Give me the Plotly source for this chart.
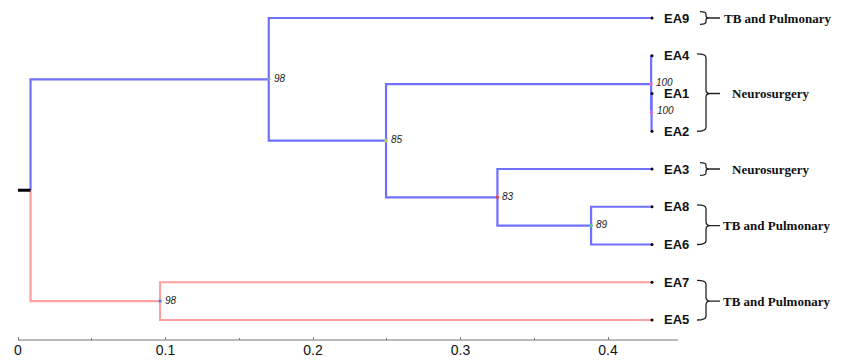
import plotly.graph_objects as go

# ---------------- data ----------------
tip_labels = ["EA9", "EA4", "EA1", "EA2", "EA3", "EA8", "EA6", "EA7", "EA5"]
tip_depths = [0.4298, 0.4298, 0.4298, 0.4298, 0.4298, 0.4298, 0.4298, 0.4298, 0.4298]

node_ids = ["root", "blue98", "n85", "n100a", "n100b", "n83", "n89", "red98"]
node_depths = [0.0085, 0.170, 0.2495, 0.4292, 0.4295, 0.325, 0.3885, 0.0963]
node_children = [["blue98", "red98"], ["EA9", "n85"], ["n100a", "n83"], ["EA4", "n100b"],
                 ["EA1", "EA2"], ["EA3", "n89"], ["EA8", "EA6"], ["EA7", "EA5"]]
node_support = [None, 98, 85, 100, 100, 83, 89, 98]
node_dot_colors = [None, "#8a9bb0", "#c8c850", "#e070d0", "#e070d0", "#dd4a4a", "#50c890", "#5a8ad0"]
clade_of_root_child = {"blue98": "blue", "red98": "red"}

group_labels = ["TB and Pulmonary", "Neurosurgery", "Neurosurgery", "TB and Pulmonary", "TB and Pulmonary"]
group_first = ["EA9", "EA4", "EA3", "EA8", "EA7"]
group_last = ["EA9", "EA2", "EA3", "EA6", "EA5"]

x_tickvals = [0, 0.1, 0.2, 0.3, 0.4]
x_ticktext = ["0", "0.1", "0.2", "0.3", "0.4"]
x_minor_tickvals = [0.05, 0.15, 0.25, 0.35]
axis_end = 0.4475

# ---------------- layout of tree ----------------
depth = {}
ypos = {}
for i, (t, d) in enumerate(zip(tip_labels, tip_depths)):
    depth[t] = d
    ypos[t] = i
children = {}
for n, d, ch in zip(node_ids, node_depths, node_children):
    depth[n] = d
    children[n] = ch


def get_y(n):
    if n in ypos:
        return ypos[n]
    ys = [get_y(c) for c in children[n]]
    ypos[n] = (min(ys) + max(ys)) / 2
    return ypos[n]


get_y("root")

clade = {}


def assign(n, c):
    clade[n] = c
    for ch in children.get(n, []):
        assign(ch, c)


for ch in children["root"]:
    assign(ch, clade_of_root_child[ch])

seg = {"blue": ([], []), "red": ([], [])}
for n in node_ids:
    for ch in children[n]:
        xs, ys = seg[clade[ch]]
        xs += [depth[n], depth[n], depth[ch], None]
        ys += [ypos[n], ypos[ch], ypos[ch], None]

colors = {"blue": "#7070ff", "red": "#ffa0a0"}

fig = go.Figure()
for c in ["red", "blue"]:
    fig.add_trace(go.Scatter(x=seg[c][0], y=seg[c][1], mode="lines",
                             line=dict(color=colors[c], width=2.2), hoverinfo="skip",
                             showlegend=False))

# root stub
fig.add_trace(go.Scatter(x=[0, depth["root"]], y=[ypos["root"], ypos["root"]], mode="lines",
                         line=dict(color="black", width=3), showlegend=False, hoverinfo="skip"))

# tip dots
fig.add_trace(go.Scatter(x=tip_depths, y=[ypos[t] for t in tip_labels], mode="markers",
                         marker=dict(color="black", size=3), showlegend=False, hoverinfo="skip"))

# node dots
nd = [(n, c) for n, c in zip(node_ids, node_dot_colors) if c]
fig.add_trace(go.Scatter(x=[depth[n] for n, _ in nd], y=[ypos[n] for n, _ in nd], mode="markers",
                         marker=dict(color=[c for _, c in nd], size=3.5), showlegend=False,
                         hoverinfo="skip"))

annotations = []
# support values
for n, s in zip(node_ids, node_support):
    if s is None:
        continue
    annotations.append(dict(x=depth[n], y=ypos[n], xref="x", yref="y", text="<i>%d</i>" % s,
                            showarrow=False, xanchor="left", yanchor="middle", xshift=3,
                            yshift=1 if s != 100 else 2,
                            font=dict(family="Liberation Sans, Arial", size=10, color="#222")))
# tip labels
for t in tip_labels:
    annotations.append(dict(x=depth[t], y=ypos[t], xref="x", yref="y", text="<b>%s</b>" % t,
                            showarrow=False, xanchor="left", yanchor="middle", xshift=10,
                            font=dict(family="Liberation Sans, Arial", size=13, color="#111")))

shapes = []
tipx = max(tip_depths)
for lab, a, b in zip(group_labels, group_first, group_last):
    ya, yb = ypos[a], ypos[b]
    mid = (ya + yb) / 2
    if a == b:
        top, bot = ya - 0.17, ya + 0.17
        h0 = 48
        path = ("M %d,%f Q 54,%f 54,%f L 54,%f Q 54,%f 57,%f Q 54,%f 54,%f L 54,%f Q 54,%f %d,%f "
                "M 57,%f L 68,%f") % (h0, top, top, top + 0.07, mid - 0.05, mid, mid, mid, mid + 0.05,
                                      bot - 0.07, bot, h0, bot, mid, mid)
        lx = 72
    else:
        top, bot = ya - 0.05, yb
        h0 = 45
        path = ("M %d,%f Q 54,%f 54,%f L 54,%f Q 54,%f 58,%f Q 54,%f 54,%f L 54,%f Q 54,%f %d,%f "
                "M 58,%f L 68,%f") % (h0, top, top, top + 0.1, mid - 0.1, mid, mid, mid, mid + 0.1,
                                      bot - 0.1, bot, h0, bot, mid, mid)
        lx = 71
    if lab == "Neurosurgery":
        lx = 80
    shapes.append(dict(type="path", xref="x", yref="y", xsizemode="pixel", xanchor=tipx,
                       path=path, line=dict(color="#222", width=1.3)))
    annotations.append(dict(x=tipx, y=mid, xref="x", yref="y", text="<b>%s</b>" % lab,
                            showarrow=False, xanchor="left", yanchor="middle", xshift=lx - 2,
                            font=dict(family="Liberation Serif, Times New Roman", size=13,
                                      color="#111")))

# axis line
shapes.append(dict(type="line", xref="x", yref="paper", x0=0, x1=axis_end, y0=0, y1=0,
                   line=dict(color="#777", width=1)))

# page has an 8px body margin, so the figure is drawn 8px smaller
fig.update_layout(
    width=834, height=354,
    margin=dict(l=0, r=0, t=0, b=22),
    plot_bgcolor="white", paper_bgcolor="white",
    showlegend=False,
    annotations=annotations, shapes=shapes,
    xaxis=dict(range=[-0.00678, 0.5586], showgrid=False, zeroline=False, showline=False,
               tickmode="array", tickvals=x_tickvals, ticktext=x_ticktext,
               ticks="inside", ticklen=3, tickcolor="#777", tickwidth=1,
               tickfont=dict(family="Liberation Sans, Arial", size=14, color="#111"),
               minor=dict(tickmode="array", tickvals=x_minor_tickvals, ticks="inside",
                          ticklen=2, tickcolor="#777")),
    yaxis=dict(range=[8.53, -0.265], visible=False),
)

fig.write_html("out.html")
